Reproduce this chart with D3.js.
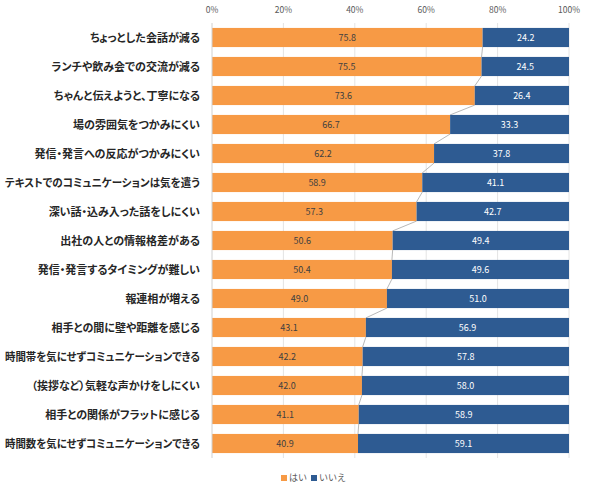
<!DOCTYPE html>
<html>
<head>
<meta charset="utf-8">
<script src="https://cdn.jsdelivr.net/npm/d3@7"></script>
<style>
  body { margin: 0; background: #fff; }
  text { font-family: "Noto Sans CJK JP", "Noto Sans", sans-serif; }
  .cat { font-feature-settings: "palt"; }
</style>
</head>
<body>
<div id="chart"></div>
<script>
// 項目
var categories = [
  "ちょっとした会話が減る",
  "ランチや飲み会での交流が減る",
  "ちゃんと伝えようと、丁寧になる",
  "場の雰囲気をつかみにくい",
  "発信・発言への反応がつかみにくい",
  "テキストでのコミュニケーションは気を遣う",
  "深い話・込み入った話をしにくい",
  "出社の人との情報格差がある",
  "発信・発言するタイミングが難しい",
  "報連相が増える",
  "相手との間に壁や距離を感じる",
  "時間帯を気にせずコミュニケーションできる",
  "（挨拶など）気軽な声かけをしにくい",
  "相手との関係がフラットに感じる",
  "時間数を気にせずコミュニケーションできる"
];
var yes = [75.8, 75.5, 73.6, 66.7, 62.2, 58.9, 57.3, 50.6, 50.4, 49.0, 43.1, 42.2, 42.0, 41.1, 40.9];
var no  = [24.2, 24.5, 26.4, 33.3, 37.8, 41.1, 42.7, 49.4, 49.6, 51.0, 56.9, 57.8, 58.0, 58.9, 59.1];
var ticks = [0, 20, 40, 60, 80, 100];
var seriesNames = ["はい", "いいえ"];
var colors = ["#F79A45", "#2E5B92"];

var W = 590, H = 499;
var m = { left: 212, right: 569, top: 23, bottom: 458 };

var svg = d3.select("#chart").append("svg").attr("width", W).attr("height", H);

var x = d3.scaleLinear().domain([0, 100]).range([m.left, m.right]);
var y = d3.scaleBand().domain(categories).range([m.top, m.bottom]).paddingInner(0.34).paddingOuter(0.17);

// grid
svg.append("g").selectAll("line").data(ticks.slice(1)).enter().append("line")
  .attr("x1", function(d){ return x(d); }).attr("x2", function(d){ return x(d); })
  .attr("y1", m.top).attr("y2", m.bottom)
  .attr("stroke", "#e4e4e4").attr("stroke-width", 1);

// top axis labels
svg.append("g").selectAll("text").data(ticks).enter().append("text")
  .attr("x", function(d){ return x(d); }).attr("y", 13)
  .attr("text-anchor", "middle").attr("font-size", 8.5).attr("fill", "#595959")
  .text(function(d){ return d + "%"; });

// series lines between bars
var conn = [];
for (var i = 0; i < categories.length - 1; i++) {
  conn.push({ x1: x(yes[i]), y1: y(categories[i]) + y.bandwidth(), x2: x(yes[i+1]), y2: y(categories[i+1]) });
}
svg.append("g").selectAll("line").data(conn).enter().append("line")
  .attr("x1", function(d){ return d.x1; }).attr("y1", function(d){ return d.y1; })
  .attr("x2", function(d){ return d.x2; }).attr("y2", function(d){ return d.y2; })
  .attr("stroke", "#a6a6a6").attr("stroke-width", 0.8);

var rows = svg.append("g").selectAll("g").data(categories).enter().append("g");

rows.append("rect")
  .attr("x", x(0)).attr("y", function(d){ return y(d); })
  .attr("width", function(d, i){ return x(yes[i]) - x(0); })
  .attr("height", y.bandwidth()).attr("fill", colors[0]);

rows.append("rect")
  .attr("x", function(d, i){ return x(yes[i]); }).attr("y", function(d){ return y(d); })
  .attr("width", function(d, i){ return x(yes[i] + no[i]) - x(yes[i]); })
  .attr("height", y.bandwidth()).attr("fill", colors[1]);

rows.append("text")
  .attr("x", function(d, i){ return x(yes[i] / 2); })
  .attr("y", function(d){ return y(d) + y.bandwidth() / 2 + 3; })
  .attr("text-anchor", "middle").attr("font-size", 9).attr("fill", "#404040")
  .text(function(d, i){ return yes[i].toFixed(1); });

rows.append("text")
  .attr("x", function(d, i){ return x(yes[i] + no[i] / 2); })
  .attr("y", function(d){ return y(d) + y.bandwidth() / 2 + 3; })
  .attr("text-anchor", "middle").attr("font-size", 9).attr("fill", "#ffffff")
  .text(function(d, i){ return no[i].toFixed(1); });

// category labels
rows.append("text")
  .attr("class", "cat")
  .attr("x", 200)
  .attr("y", function(d){ return y(d) + y.bandwidth() / 2 + 4; })
  .attr("text-anchor", "end").attr("font-size", 11).attr("font-weight", "bold").attr("fill", "#262626")
  .text(function(d){ return d; })
  .each(function(){
    // 長いラベルは枠内に収める
    var w = this.getComputedTextLength();
    if (w > 195) d3.select(this).attr("textLength", 195).attr("lengthAdjust", "spacingAndGlyphs");
  });

// axis line at 0
svg.append("line").attr("x1", x(0)).attr("x2", x(0)).attr("y1", m.top).attr("y2", m.bottom)
  .attr("stroke", "#d0d0d0").attr("stroke-width", 1);

// legend
var legX = [281, 311];
var leg = svg.append("g").selectAll("g").data(seriesNames).enter().append("g")
  .attr("transform", function(d, i){ return "translate(" + legX[i] + ",480)"; });
leg.append("rect").attr("x", 0).attr("y", -5).attr("width", 6).attr("height", 6)
  .attr("fill", function(d, i){ return colors[i]; });
leg.append("text").attr("x", 8).attr("y", 1).attr("font-size", 9).attr("fill", "#595959")
  .text(function(d){ return d; });
</script>
</body>
</html>
